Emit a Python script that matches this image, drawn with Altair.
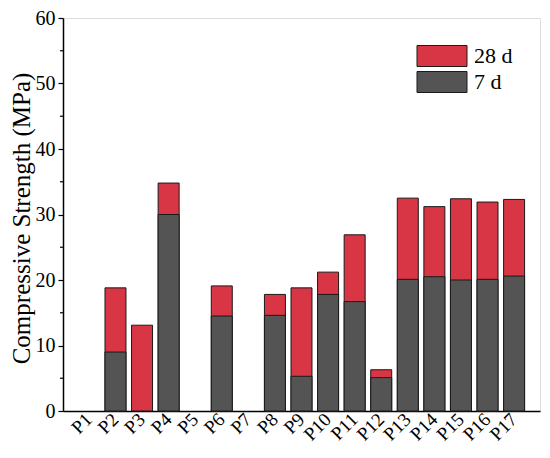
import altair as alt
import pandas as pd

samples = ["P1", "P2", "P3", "P4", "P5", "P6", "P7", "P8", "P9", "P10",
           "P11", "P12", "P13", "P14", "P15", "P16", "P17"]
d7 = [0, 9.0, 0, 30.0, 0, 14.5, 0, 14.6, 5.3, 17.8, 16.7, 5.1, 20.1, 20.5, 20.0, 20.1, 20.6]
d28 = [0, 18.8, 13.1, 34.8, 0, 19.1, 0, 17.8, 18.8, 21.2, 26.9, 6.3, 32.5, 31.2, 32.4, 31.9, 32.3]
series = ["28 d", "7 d"]
colors = ["#d83545", "#545454"]
major_ticks = [0, 10, 20, 30, 40, 50, 60]
minor_ticks = [5, 15, 25, 35, 45, 55]

rows = []
for s, v in zip(samples, d28):
    rows.append({"sample": s, "age": "28 d", "val": v, "k": 0})
for s, v in zip(samples, d7):
    rows.append({"sample": s, "age": "7 d", "val": v, "k": 1})
df = pd.DataFrame(rows)
minor_df = pd.DataFrame({"val": minor_ticks})

font = "Liberation Serif"
yscale = alt.Scale(domain=[0, 60], nice=False)

bars = alt.Chart(df).mark_bar(stroke="#1a1a1a", strokeWidth=1).encode(
    x=alt.X("sample:N", sort=samples, title=None,
            scale=alt.Scale(domain=samples, paddingInner=0.21, paddingOuter=0.58),
            axis=alt.Axis(labelAngle=-45, labelFont=font, labelFontSize=19,
                          labelColor="black", ticks=False, domainColor="black",
                          domainWidth=1.5, labelPadding=5, labelAlign="right",
                          labelBaseline="middle")),
    y=alt.Y("val:Q", stack=None, title="Compressive Strength (MPa)",
            scale=yscale,
            axis=alt.Axis(values=major_ticks, labelFont=font,
                          labelFontSize=20, labelColor="black", titleFont=font,
                          titleFontSize=25, titleFontWeight="normal",
                          titleColor="black", tickColor="black", tickSize=5,
                          tickWidth=1.2, domainColor="black", domainWidth=1.5,
                          grid=False, titlePadding=1, labelPadding=3,
                          titleY=200)),
    color=alt.Color("age:N", scale=alt.Scale(domain=series, range=colors),
                    legend=alt.Legend(title=None, orient="none", legendX=366,
                                      legendY=25, labelFont=font,
                                      labelFontSize=22, labelColor="black",
                                      symbolType="M-2,-0.84L2,-0.84L2,0.84L-2,0.84Z",
                                      symbolSize=625, symbolStrokeColor="#1a1a1a",
                                      symbolStrokeWidth=1, rowPadding=0,
                                      labelOffset=19, symbolOpacity=1)),
    order=alt.Order("k:Q", sort="ascending"),
).transform_filter(
    alt.datum.val > 0
)

minor = alt.Chart(minor_df).mark_rule(color="black", strokeWidth=1.2).encode(
    x=alt.value(-3), x2=alt.value(0),
    y=alt.Y("val:Q", scale=yscale),
)

chart = alt.layer(bars, minor).properties(
    width=477, height=393,
    autosize=alt.AutoSizeParams(type="none"),
    padding={"left": 55, "top": 10, "right": 2, "bottom": 40},
).configure_view(stroke="black", strokeWidth=1.5).configure(background="white")

chart.save("out.html", embed_options={"renderer": "svg", "actions": False})
